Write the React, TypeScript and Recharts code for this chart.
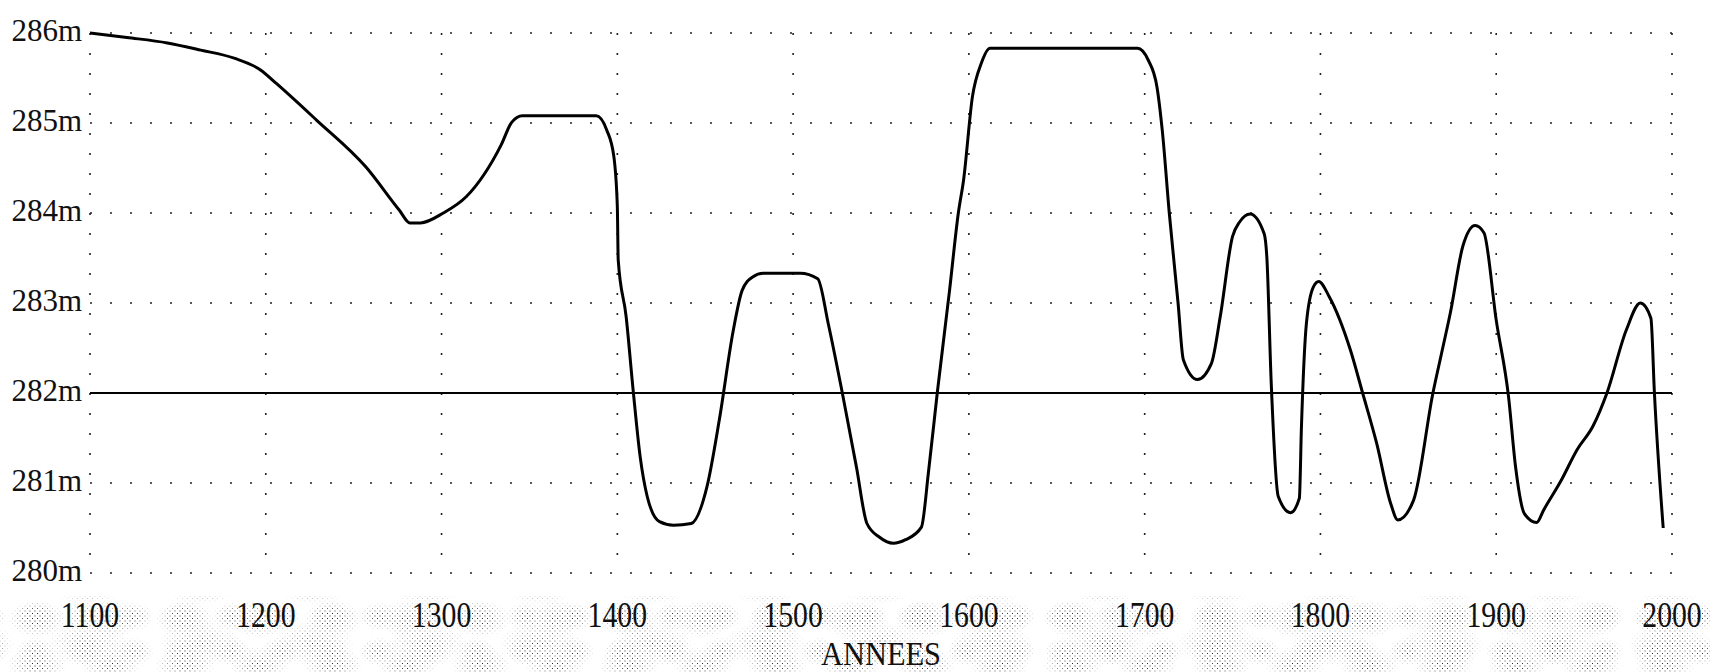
import { LineChart, Line, XAxis, YAxis, CartesianGrid, ReferenceLine, Label } from 'recharts'

// niveau (m) relevé année par année sur le graphique
const annees = [
  1100, 1121, 1144, 1163, 1182, 1197, 1206, 1229, 1257, 1276, 1282, 1288, 1301, 1314, 1334, 1340, 1346,
  1388, 1394, 1398, 1400, 1400.5, 1405, 1409, 1413, 1417, 1424, 1432, 1442, 1451, 1458, 1466, 1471, 1477,
  1483, 1504, 1514, 1520, 1528, 1536, 1542, 1549, 1557, 1564, 1573, 1577, 1582, 1589, 1594, 1597, 1602,
  1607, 1612, 1696, 1702, 1707, 1710, 1714, 1719, 1722, 1730, 1738, 1743, 1750, 1754, 1760, 1768, 1769.5,
  1772, 1776, 1783, 1788, 1789.2, 1792, 1796, 1799, 1805, 1817, 1824, 1832, 1840, 1844, 1853, 1864, 1869,
  1874, 1881, 1888, 1893, 1900, 1907, 1911, 1916, 1923, 1927, 1937, 1946, 1955, 1963, 1974, 1982, 1988,
  1990, 1995,
]
const niveaux = [
  286.0, 285.95, 285.89, 285.81, 285.72, 285.59, 285.44, 285.03, 284.51, 284.03, 283.89, 283.89, 284.0,
  284.18, 284.76, 285.01, 285.08, 285.08, 284.92, 284.63, 284.07, 283.48, 282.85, 282.03, 281.29, 280.85,
  280.57, 280.53, 280.55, 280.96, 281.7, 282.7, 283.14, 283.29, 283.33, 283.33, 283.27, 282.77, 282.0,
  281.18, 280.55, 280.4, 280.33, 280.37, 280.51, 281.12, 282.0, 283.14, 284.0, 284.37, 285.29, 285.66,
  285.83, 285.83, 285.7, 285.4, 284.92, 284.0, 283.0, 282.37, 282.15, 282.33, 282.85, 283.74, 283.9,
  283.99, 283.77, 283.51, 282.11, 280.85, 280.67, 280.83, 281.63, 282.77, 283.18, 283.24, 283.07, 282.48,
  282.0, 281.44, 280.77, 280.59, 280.81, 282.0, 282.45, 282.9, 283.63, 283.86, 283.78, 282.81, 281.96,
  281.18, 280.66, 280.56, 280.7, 281.03, 281.37, 281.63, 282.0, 282.7, 283.0, 282.83, 282.0, 280.5,
]
const yearTicks = [1100, 1200, 1300, 1400, 1500, 1600, 1700, 1800, 1900, 2000]
const levelTicks = [280, 281, 282, 283, 284, 285, 286]

const data = annees.map((a, i) => ({ annee: a, niveau: niveaux[i] }))

const SERIF = "'Liberation Serif', 'DejaVu Serif', serif"

const YTick = ({ x, y, payload }: any) => (
  <text x={x} y={y + 8} textAnchor="end" fontSize={31} fontFamily={SERIF} fill="#111">
    {payload.value}m
  </text>
)

// chiffres étroits et hauts comme sur l'original
const XTick = ({ x, y, payload }: any) => (
  <g transform={`translate(${x},${y + 54}) scale(0.85,1)`}>
    <text x={0} y={0} textAnchor="middle" fontSize={35} fontFamily={SERIF} fill="#111">
      {payload.value}
    </text>
  </g>
)

const blobs =
  'radial-gradient(ellipse at center, #000 8%, transparent 58%), ' +
  'radial-gradient(ellipse at center, #000 0%, transparent 52%), ' +
  'radial-gradient(ellipse at center, #000 8%, transparent 58%)'

export default function App() {
  return (
    <div style={{ position: 'absolute', left: 0, top: 0, width: 1710, height: 672, background: '#fff', overflow: 'hidden' }}>
      {/* trame grisée sous l'axe des années */}
      <div style={{
        position: 'absolute', left: 0, top: 596, width: 1710, height: 76,
        backgroundImage:
          'radial-gradient(circle, #000 0.65px, transparent 0.95px), radial-gradient(circle, #000 0.65px, transparent 0.95px)',
        backgroundSize: '5px 5px, 5px 5px',
        backgroundPosition: '0 0, 2.5px 2.5px',
        opacity: 0.85,
        maskImage: blobs,
        WebkitMaskImage: blobs,
        maskSize: '74px 46px, 113px 62px, 49px 35px',
        WebkitMaskSize: '74px 46px, 113px 62px, 49px 35px',
        maskPosition: '0 0, 31px 17px, 11px 38px',
        WebkitMaskPosition: '0 0, 31px 17px, 11px 38px',
      } as any} />
      <div style={{ position: 'absolute', left: 0, top: 0 }}>
        <LineChart width={1710} height={672} data={data} margin={{ top: 33, right: 38, bottom: 0, left: 0 }}>
          <CartesianGrid stroke="#222" strokeWidth={1.6} strokeDasharray="2 18" />
          <XAxis dataKey="annee" type="number" domain={[1100, 2000]} ticks={yearTicks} interval={0}
            height={99} tickSize={0} tickMargin={0} axisLine={false} tickLine={false} tick={<XTick />}>
            <Label content={({ viewBox }: any) => (
              <text x={viewBox.x + viewBox.width / 2} y={viewBox.y + 92} textAnchor="middle" fontSize={33}
                fontFamily={SERIF} fill="#111" textLength={120} lengthAdjust="spacingAndGlyphs">ANNEES</text>
            )} />
          </XAxis>
          <YAxis type="number" domain={[280, 286]} ticks={levelTicks} interval={0} width={90}
            tickSize={0} tickMargin={8} axisLine={false} tickLine={false} tick={<YTick />} />
          <ReferenceLine y={282} stroke="#000" strokeWidth={1.8} />
          <Line type="monotone" dataKey="niveau" stroke="#000" strokeWidth={3} dot={false}
            activeDot={false} isAnimationActive={false} />
        </LineChart>
      </div>
    </div>
  )
}
